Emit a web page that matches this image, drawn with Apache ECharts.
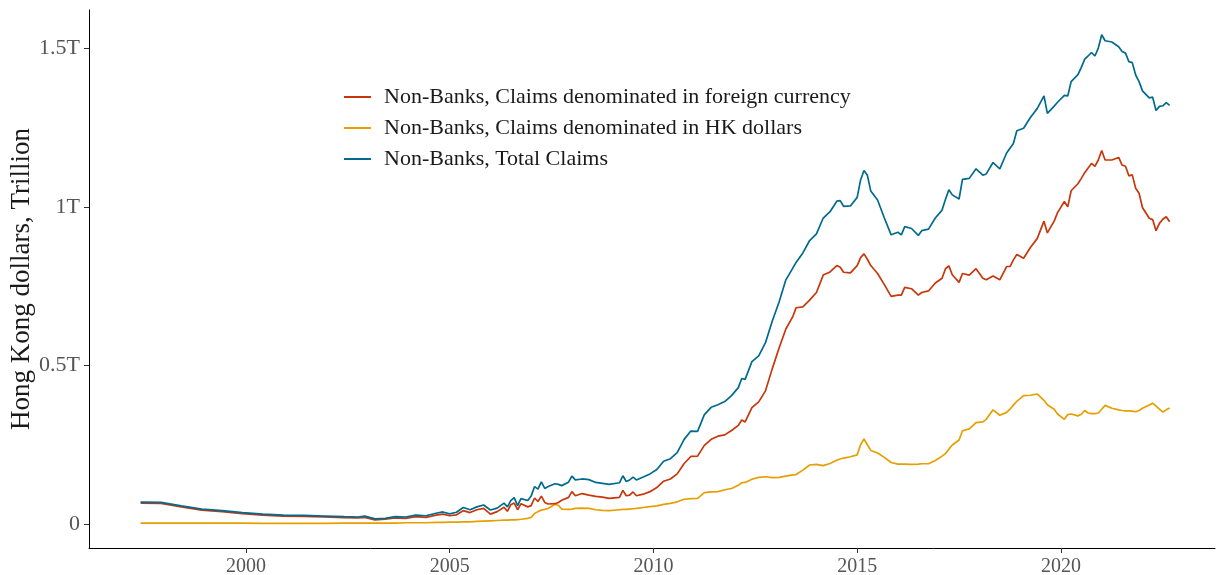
<!DOCTYPE html>
<html><head><meta charset="utf-8">
<script src="https://cdn.jsdelivr.net/npm/echarts@6/dist/echarts.min.js"></script>
<style>html,body{margin:0;padding:0;background:#fff}#c{width:1216px;height:575px}</style>
</head><body><div id="c"></div>
<script>
const dates = ["1997-06","1997-12","1998-06","1998-12","1999-06","1999-12","2000-06","2000-12","2001-06","2001-12","2002-06","2002-10","2002-12","2003-03","2003-06","2003-09","2003-12","2004-03","2004-06","2004-09","2004-11","2005-01","2005-03","2005-05","2005-07","2005-09","2005-11","2006-01","2006-03","2006-05","2006-06","2006-07","2006-08","2006-09","2006-10","2006-12","2007-01","2007-02","2007-03","2007-04","2007-05","2007-06","2007-08","2007-09","2007-10","2007-12","2008-01","2008-02","2008-04","2008-06","2008-08","2008-10","2008-12","2009-03","2009-04","2009-05","2009-06","2009-07","2009-08","2009-10","2009-12","2010-02","2010-04","2010-06","2010-08","2010-10","2010-12","2011-02","2011-04","2011-06","2011-08","2011-10","2011-12","2012-02","2012-03","2012-04","2012-06","2012-08","2012-10","2012-12","2013-02","2013-04","2013-06","2013-07","2013-09","2013-11","2014-01","2014-03","2014-05","2014-07","2014-08","2014-09","2014-11","2015-01","2015-02","2015-03","2015-04","2015-05","2015-07","2015-09","2015-11","2016-01","2016-02","2016-03","2016-05","2016-07","2016-08","2016-10","2016-12","2017-02","2017-03","2017-04","2017-05","2017-07","2017-08","2017-10","2017-12","2018-02","2018-03","2018-05","2018-07","2018-09","2018-10","2018-11","2018-12","2019-02","2019-04","2019-06","2019-08","2019-09","2019-11","2019-12","2020-02","2020-03","2020-04","2020-06","2020-07","2020-08","2020-09","2020-10","2020-11","2020-12","2021-01","2021-02","2021-04","2021-06","2021-07","2021-08","2021-09","2021-10","2021-11","2021-12","2022-01","2022-03","2022-04","2022-05","2022-06","2022-07","2022-08","2022-09"];

// Trillion HKD
const foreign = [0.066,0.065,0.054,0.044,0.039,0.033,0.028,0.025,0.024,0.022,0.020,0.019,0.021,0.013,0.015,0.019,0.018,0.023,0.021,0.028,0.031,0.026,0.029,0.042,0.036,0.045,0.049,0.031,0.039,0.053,0.040,0.061,0.066,0.045,0.064,0.054,0.058,0.082,0.071,0.088,0.068,0.063,0.064,0.068,0.075,0.084,0.102,0.089,0.096,0.091,0.087,0.085,0.081,0.084,0.106,0.089,0.091,0.101,0.089,0.094,0.102,0.115,0.135,0.142,0.158,0.190,0.213,0.214,0.248,0.267,0.277,0.281,0.295,0.311,0.328,0.322,0.367,0.385,0.420,0.490,0.555,0.615,0.653,0.682,0.685,0.706,0.730,0.785,0.795,0.815,0.810,0.794,0.792,0.815,0.840,0.852,0.835,0.815,0.790,0.755,0.718,0.722,0.722,0.746,0.742,0.722,0.730,0.735,0.760,0.775,0.805,0.814,0.786,0.762,0.790,0.785,0.805,0.775,0.770,0.782,0.770,0.812,0.812,0.833,0.850,0.838,0.872,0.900,0.955,0.918,0.955,0.982,1.017,1.000,1.051,1.073,1.090,1.108,1.123,1.137,1.128,1.148,1.178,1.148,1.148,1.156,1.132,1.128,1.098,1.101,1.059,1.043,0.998,0.964,0.960,0.925,0.948,0.961,0.969,0.953];

const hkd = [0.003,0.003,0.003,0.003,0.003,0.003,0.002,0.002,0.002,0.002,0.003,0.003,0.003,0.003,0.003,0.003,0.004,0.004,0.004,0.005,0.005,0.006,0.006,0.007,0.007,0.008,0.009,0.010,0.011,0.012,0.012,0.013,0.013,0.014,0.015,0.018,0.021,0.033,0.039,0.044,0.046,0.049,0.062,0.059,0.047,0.046,0.047,0.049,0.050,0.049,0.045,0.043,0.042,0.045,0.046,0.046,0.047,0.048,0.049,0.052,0.055,0.057,0.062,0.065,0.070,0.078,0.080,0.081,0.099,0.101,0.102,0.108,0.112,0.122,0.130,0.131,0.141,0.147,0.149,0.146,0.147,0.151,0.155,0.156,0.170,0.186,0.188,0.184,0.191,0.201,0.205,0.208,0.212,0.218,0.250,0.268,0.250,0.232,0.224,0.210,0.194,0.189,0.189,0.189,0.188,0.189,0.190,0.190,0.200,0.214,0.222,0.236,0.249,0.265,0.294,0.300,0.320,0.322,0.330,0.360,0.343,0.352,0.362,0.375,0.387,0.405,0.406,0.410,0.390,0.376,0.362,0.347,0.330,0.345,0.347,0.341,0.346,0.358,0.350,0.348,0.348,0.350,0.362,0.374,0.365,0.360,0.358,0.357,0.357,0.356,0.354,0.358,0.365,0.375,0.381,0.372,0.362,0.353,0.360,0.366];

const total = [0.069,0.068,0.057,0.047,0.042,0.036,0.031,0.028,0.027,0.025,0.023,0.022,0.025,0.016,0.018,0.023,0.022,0.028,0.026,0.034,0.038,0.032,0.037,0.052,0.045,0.054,0.060,0.044,0.050,0.066,0.054,0.074,0.083,0.058,0.080,0.074,0.088,0.118,0.110,0.133,0.112,0.118,0.127,0.125,0.121,0.132,0.151,0.139,0.142,0.140,0.131,0.128,0.125,0.130,0.152,0.134,0.139,0.148,0.139,0.148,0.158,0.172,0.198,0.206,0.225,0.266,0.293,0.292,0.345,0.368,0.376,0.386,0.405,0.430,0.459,0.456,0.512,0.530,0.572,0.640,0.700,0.770,0.806,0.825,0.855,0.894,0.915,0.965,0.985,1.018,1.020,1.002,1.003,1.030,1.085,1.115,1.100,1.050,1.022,0.965,0.912,0.920,0.912,0.938,0.932,0.910,0.925,0.930,0.965,0.990,1.024,1.054,1.038,1.025,1.087,1.090,1.120,1.100,1.104,1.140,1.120,1.170,1.185,1.200,1.240,1.248,1.282,1.310,1.350,1.295,1.318,1.330,1.352,1.350,1.395,1.417,1.440,1.466,1.476,1.487,1.476,1.501,1.543,1.524,1.520,1.505,1.490,1.485,1.458,1.455,1.416,1.395,1.366,1.344,1.346,1.304,1.317,1.319,1.329,1.320];

const xTicks = [2000, 2005, 2010, 2015, 2020];
const yTicks = [0, 0.5, 1, 1.5];
const names = ["Non-Banks, Claims denominated in foreign currency","Non-Banks, Claims denominated in HK dollars","Non-Banks, Total Claims"];
const colors = ["#c8360b","#e69f00","#006b8c"];

function toYear(s){const p=s.split('-');return +p[0]+(+p[1]-1)/12;}
function pairs(arr){return dates.map((d,i)=>[toYear(d),arr[i]]);}

const FONT = "Liberation Serif";
const chart = echarts.init(document.getElementById('c'), null, {renderer:'canvas'});
chart.setOption({
  animation:false,
  backgroundColor:'#fff',
  grid:{left:89, top:10, right:1, bottom:27, containLabel:false, outerBoundsMode:'none'},
  legend:{
    orient:'vertical', left:339, top:81, itemWidth:27, itemHeight:2, itemGap:9,
    icon:'rect',
    textStyle:{fontFamily:FONT, fontSize:22, color:'#1a1a1a', lineHeight:22, padding:[0,0,0,8]},
    data:names
  },
  xAxis:{
    type:'value', min:1996.15, max:2023.78,
    axisLine:{show:true, onZero:false, lineStyle:{color:'#000', width:1}},
    axisTick:{show:true, customValues:xTicks, length:5, lineStyle:{color:'#333'}},
    axisLabel:{customValues:xTicks, fontFamily:FONT, fontSize:20, color:'#555', margin:9, formatter:v=>String(v)},
    splitLine:{show:false}
  },
  yAxis:{
    type:'value', min:-0.0757, max:1.621,
    name:'Hong Kong dollars, Trillion', nameLocation:'middle', nameGap:54, nameMoveOverlap:false,
    nameTextStyle:{fontFamily:FONT, fontSize:27, color:'#1a1a1a'},
    axisLine:{show:true, onZero:false, lineStyle:{color:'#000', width:1}},
    axisTick:{show:true, customValues:yTicks, length:5, lineStyle:{color:'#333'}},
    axisLabel:{customValues:yTicks, fontFamily:FONT, fontSize:22, color:'#555', margin:9,
      formatter:v=>v===0?'0':(v+'T')},
    splitLine:{show:false}
  },
  series:[
    {name:names[0], type:'line', data:pairs(foreign), showSymbol:false, symbol:'none', lineStyle:{width:1.7, color:colors[0]}, itemStyle:{color:colors[0]}, z:3},
    {name:names[1], type:'line', data:pairs(hkd), showSymbol:false, symbol:'none', lineStyle:{width:1.7, color:colors[1]}, itemStyle:{color:colors[1]}, z:2},
    {name:names[2], type:'line', data:pairs(total), showSymbol:false, symbol:'none', lineStyle:{width:1.7, color:colors[2]}, itemStyle:{color:colors[2]}, z:4}
  ]
});
</script></body></html>
